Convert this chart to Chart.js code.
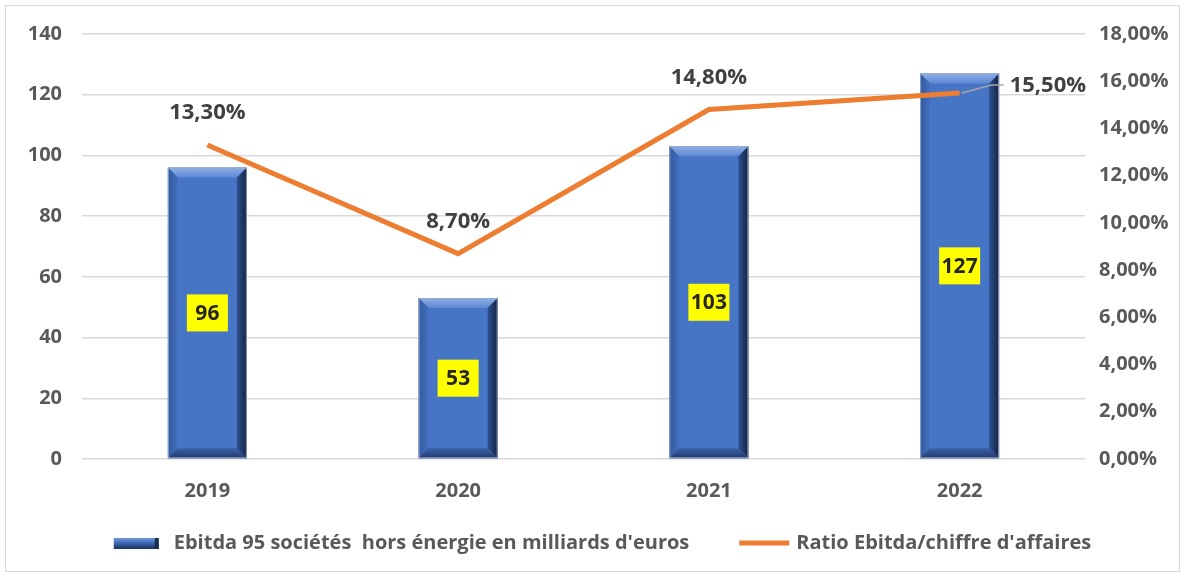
<!DOCTYPE html>
<html>
<head>
<meta charset="utf-8">
<script src="https://cdn.jsdelivr.net/npm/chart.js@4.4.0/dist/chart.umd.min.js"></script>
<style>
  html, body { margin: 0; background: #fff; }
  #wrap { width: 1185px; height: 577px; position: relative; }
</style>
</head>
<body>
<div id="wrap"><canvas id="chart"></canvas></div>
<script>
// data
const years = ["2019", "2020", "2021", "2022"];
const ebitda = [96, 53, 103, 127];
const ratio = [13.3, 8.7, 14.8, 15.5];
const ratioLabels = ["13,30%", "8,70%", "14,80%", "15,50%"];
const seriesNames = ["Ebitda 95 sociétés  hors énergie en milliards d'euros", "Ratio Ebitda/chiffre d'affaires"];

const FONT = "'Open Sans', 'DejaVu Sans', sans-serif";
const GREY = "#595959";

// white page + thin frame
const frame = {
  id: "frame",
  beforeDraw(chart) {
    const ctx = chart.ctx;
    ctx.save();
    ctx.fillStyle = "#fff";
    ctx.fillRect(0, 0, chart.width, chart.height);
    ctx.strokeStyle = "#d9d9d9";
    ctx.lineWidth = 1;
    ctx.strokeRect(5.5, 5.5, chart.width - 11, chart.height - 11);
    ctx.restore();
  }
};

// bevelled look on the bars, drawn on the bar elements the library placed
const bevel = {
  id: "bevel",
  afterDatasetDraw(chart, args) {
    if (args.index !== 0) return;
    const ctx = chart.ctx;
    args.meta.data.forEach(bar => {
      const { x, y, base, width } = bar.getProps(["x", "y", "base", "width"], true);
      const l = x - width / 2, r = x + width / 2, t = y, b = base, e = 10;
      ctx.save();
      // top
      let g = ctx.createLinearGradient(0, t, 0, t + e);
      g.addColorStop(0, "#8fb0e6");
      g.addColorStop(1, "#5c87d4");
      ctx.fillStyle = g;
      ctx.beginPath();
      ctx.moveTo(l, t); ctx.lineTo(r, t); ctx.lineTo(r - e, t + e); ctx.lineTo(l + e, t + e); ctx.closePath();
      ctx.fill();
      // left
      g = ctx.createLinearGradient(l, 0, l + e, 0);
      g.addColorStop(0, "#32589e");
      g.addColorStop(1, "#4470c0");
      ctx.fillStyle = g;
      ctx.beginPath();
      ctx.moveTo(l, t); ctx.lineTo(l + e, t + e); ctx.lineTo(l + e, b - e); ctx.lineTo(l, b); ctx.closePath();
      ctx.fill();
      // right
      g = ctx.createLinearGradient(r - e, 0, r, 0);
      g.addColorStop(0, "#2f5194");
      g.addColorStop(1, "#14223f");
      ctx.fillStyle = g;
      ctx.beginPath();
      ctx.moveTo(r, t); ctx.lineTo(r, b); ctx.lineTo(r - e, b - e); ctx.lineTo(r - e, t + e); ctx.closePath();
      ctx.fill();
      // bottom
      g = ctx.createLinearGradient(0, b - e, 0, b);
      g.addColorStop(0, "#3a61a8");
      g.addColorStop(1, "#23396a");
      ctx.fillStyle = g;
      ctx.beginPath();
      ctx.moveTo(l, b); ctx.lineTo(r, b); ctx.lineTo(r - e, b - e); ctx.lineTo(l + e, b - e); ctx.closePath();
      ctx.fill();
      ctx.strokeStyle = "rgba(150,170,205,0.9)";
      ctx.lineWidth = 1;
      ctx.strokeRect(l + 0.5, t + 0.5, width - 1, b - t - 1);
      ctx.restore();
    });
  }
};

// value labels: yellow boxes on the bars, percentages on the line
const labels = {
  id: "labels",
  afterDatasetsDraw(chart) {
    const ctx = chart.ctx;
    ctx.save();
    ctx.textAlign = "center";
    ctx.textBaseline = "middle";
    chart.getDatasetMeta(0).data.forEach((bar, i) => {
      const { x, y, base } = bar.getProps(["x", "y", "base"], true);
      const cy = (y + base) / 2;
      ctx.fillStyle = "#ffff00";
      ctx.fillRect(x - 20.5, cy - 18.5, 41, 37);
      ctx.fillStyle = "#262626";
      ctx.font = "bold 21px " + FONT;
      ctx.fillText(String(ebitda[i]), x, cy + 1);
    });
    ctx.font = "bold 22px " + FONT;
    ctx.fillStyle = "#404040";
    const pts = chart.getDatasetMeta(1).data;
    pts.forEach((pt, i) => {
      if (i < pts.length - 1) {
        ctx.textAlign = "center";
        ctx.fillText(ratioLabels[i], pt.x, pt.y - 32);
      } else {
        ctx.strokeStyle = "#a6a6a6";
        ctx.lineWidth = 1.5;
        ctx.beginPath();
        ctx.moveTo(pt.x + 2, pt.y);
        ctx.lineTo(pt.x + 32, pt.y - 8);
        ctx.lineTo(pt.x + 44, pt.y - 8);
        ctx.stroke();
        ctx.textAlign = "left";
        ctx.fillText(ratioLabels[i], pt.x + 50, pt.y - 7);
      }
    });
    ctx.restore();
  }
};

// legend at the bottom, spaced like the original
const bottomLegend = {
  id: "bottomLegend",
  afterDraw(chart) {
    const ctx = chart.ctx;
    const yc = 543;
    ctx.save();
    ctx.font = "bold 20px " + FONT;
    ctx.textBaseline = "middle";
    ctx.textAlign = "left";
    const w0 = ctx.measureText(seriesNames[0]).width;
    const w1 = ctx.measureText(seriesNames[1]).width;
    const total = 45 + 15 + w0 + 50 + 50 + 7 + w1;
    let x = (chart.width - total) / 2 + 10;
    // bar swatch
    const g = ctx.createLinearGradient(0, yc - 5, 0, yc + 5);
    g.addColorStop(0, "#6f97dc");
    g.addColorStop(0.5, "#3f69b6");
    g.addColorStop(1, "#1f3864");
    ctx.fillStyle = g;
    ctx.fillRect(x, yc - 5, 45, 11);
    ctx.fillStyle = "#1a2c50";
    ctx.fillRect(x + 41, yc - 5, 4, 11);
    x += 45 + 15;
    ctx.fillStyle = GREY;
    ctx.fillText(seriesNames[0], x, yc);
    x += w0 + 50;
    // line swatch
    ctx.strokeStyle = "#ed7d31";
    ctx.lineWidth = 5;
    ctx.beginPath();
    ctx.moveTo(x, yc);
    ctx.lineTo(x + 50, yc);
    ctx.stroke();
    x += 50 + 7;
    ctx.fillText(seriesNames[1], x, yc);
    ctx.restore();
  }
};

const ctx = document.getElementById("chart").getContext("2d");
new Chart(ctx, {
  data: {
    labels: years,
    datasets: [
      {
        type: "bar",
        label: seriesNames[0],
        data: ebitda,
        yAxisID: "y",
        order: 1,
        backgroundColor: "#4775c6",
        borderWidth: 0,
        barPercentage: 0.63,
        categoryPercentage: 0.5
      },
      {
        type: "line",
        label: seriesNames[1],
        data: ratio,
        yAxisID: "y1",
        order: 0,
        borderColor: "#ed7d31",
        backgroundColor: "#ed7d31",
        borderWidth: 5,
        pointRadius: 0,
        tension: 0
      }
    ]
  },
  options: {
    responsive: true,
    maintainAspectRatio: false,
    animation: false,
    layout: { padding: { top: 34, left: 0, right: 0, bottom: 56 } },
    plugins: {
      tooltip: { enabled: false },
      legend: { display: false }
    },
    scales: {
      x: {
        grid: { display: false },
        border: { display: false },
        ticks: { color: GREY, font: { family: FONT, size: 20, weight: "bold" }, padding: 12 },
        afterFit(s) { s.height = 62; }
      },
      y: {
        position: "left",
        min: 0,
        max: 140,
        ticks: { stepSize: 20, color: GREY, font: { family: FONT, size: 20, weight: "bold" }, padding: 20 },
        grid: { color: "#d9d9d9", lineWidth: 1.5, drawTicks: false },
        border: { display: false },
        afterFit(s) { s.width = 82; }
      },
      y1: {
        position: "right",
        min: 0,
        max: 18,
        ticks: {
          stepSize: 2,
          color: GREY,
          font: { family: FONT, size: 20, weight: "bold" },
          padding: 14,
          callback: v => v.toFixed(2).replace(".", ",") + "%"
        },
        grid: { display: false, drawTicks: false },
        border: { display: false },
        afterFit(s) { s.width = 100; }
      }
    }
  },
  plugins: [frame, bevel, labels, bottomLegend]
});
</script>
</body>
</html>
